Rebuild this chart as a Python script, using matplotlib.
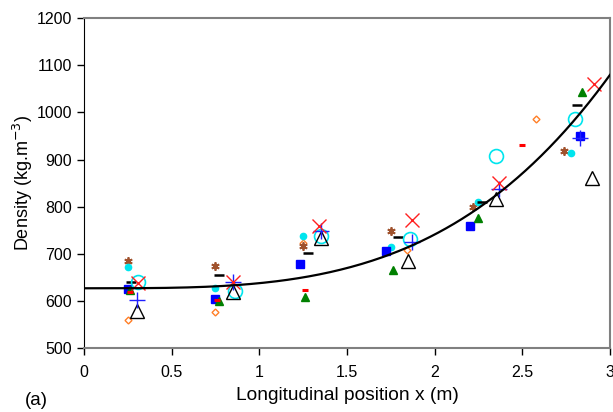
import numpy as np
import matplotlib.pyplot as plt

plt.rcParams['font.family'] = ['Liberation Sans', 'DejaVu Sans']

# measured densities, one list per series (x in m, density in kg/m3)
sq_x = [0.25, 0.75, 1.23, 1.72, 2.20, 2.83]
sq_y = [625, 605, 678, 707, 760, 950]
tri_x = [0.26, 0.77, 1.26, 1.76, 2.25, 2.84]
tri_y = [624, 601, 608, 665, 775, 1043]
rdash_x = [0.26, 0.76, 1.26, 2.50]
rdash_y = [619, 603, 623, 930]
kdash_x = [0.27, 0.77, 1.28, 1.79, 2.27, 2.81]
kdash_y = [640, 655, 702, 735, 810, 1015]
cdot_x = [0.25, 0.75, 1.25, 1.75, 2.25, 2.78]
cdot_y = [673, 627, 737, 715, 810, 913]
star_x = [0.25, 0.75, 1.25, 1.75, 2.22, 2.74]
star_y = [684, 674, 717, 749, 800, 918]
odia_x = [0.25, 0.75, 1.25, 1.84, 2.58]
odia_y = [559, 577, 724, 709, 987]
circ_x = [0.31, 0.86, 1.35, 1.86, 2.35, 2.80]
circ_y = [640, 622, 737, 732, 908, 986]
xx_x = [0.31, 0.85, 1.34, 1.87, 2.37, 2.91]
xx_y = [638, 640, 760, 772, 850, 1060]
plus_x = [0.30, 0.85, 1.35, 1.87, 2.37, 2.83]
plus_y = [602, 640, 748, 726, 838, 945]
otri_x = [0.30, 0.85, 1.35, 1.85, 2.35, 2.90]
otri_y = [578, 620, 733, 685, 816, 860]

# trend line  rho = a + b * x^n
fit_a, fit_b, fit_n = 627, 10.8, 3.4

fig, ax = plt.subplots(figsize=(6.13, 4.12), dpi=100)
fig.subplots_adjust(left=0.137, right=0.995, top=0.956, bottom=0.155)

xf = np.linspace(0, 3, 200)
ax.plot(xf, fit_a + fit_b * xf ** fit_n, color='black', lw=1.6, zorder=5)

ax.plot(odia_x, odia_y, 'D', ms=3.5, mfc='white', mec='#ff7f27', mew=1.0, ls='none')
ax.plot(star_x, star_y, marker=(6, 2, 0), ms=6, color='#a0522d', mew=1.3, ls='none')
ax.plot(cdot_x, cdot_y, 'o', ms=4.5, color='#00e5ee', ls='none')
ax.plot(sq_x, sq_y, 's', ms=5.5, color='#0000ff', ls='none')
ax.plot(tri_x, tri_y, '^', ms=6, color='#008000', ls='none')
ax.plot(rdash_x, rdash_y, '_', ms=5, color='red', mew=2.2, ls='none')
ax.plot(kdash_x, kdash_y, '_', ms=7, color='black', mew=1.8, ls='none')
ax.plot(circ_x, circ_y, 'o', ms=10, mfc='none', mec='#00e5ee', mew=1.2, ls='none')
ax.plot(otri_x, otri_y, '^', ms=10, mfc='none', mec='black', mew=1.0, ls='none')
ax.plot(plus_x, plus_y, '+', ms=11, color='#2020ff', mew=1.0, ls='none')
ax.plot(xx_x, xx_y, 'x', ms=10, color='#ff2020', mew=1.0, ls='none')

ax.set_xlim(0, 3)
ax.set_ylim(500, 1200)
ax.set_xticks(np.arange(0, 3.01, 0.5))
ax.set_xticklabels(['0', '0.5', '1', '1.5', '2', '2.5', '3'])
ax.set_yticks(range(500, 1201, 100))
ax.tick_params(labelsize=11.5, length=5, width=1, direction='out')
ax.tick_params(axis='x', pad=7)

ax.spines['left'].set_color('black')
for s in ['top', 'right', 'bottom']:
    ax.spines[s].set_color('#808080')
    ax.spines[s].set_linewidth(1.5)

ax.set_xlabel('Longitudinal position x (m)', fontsize=13.8, labelpad=5)
ax.set_ylabel('Density (kg.m$^{-3}$)', fontsize=13, labelpad=1)
fig.text(0.04, 0.018, '(a)', fontsize=13.5)

fig.savefig('out.png', dpi=100)
